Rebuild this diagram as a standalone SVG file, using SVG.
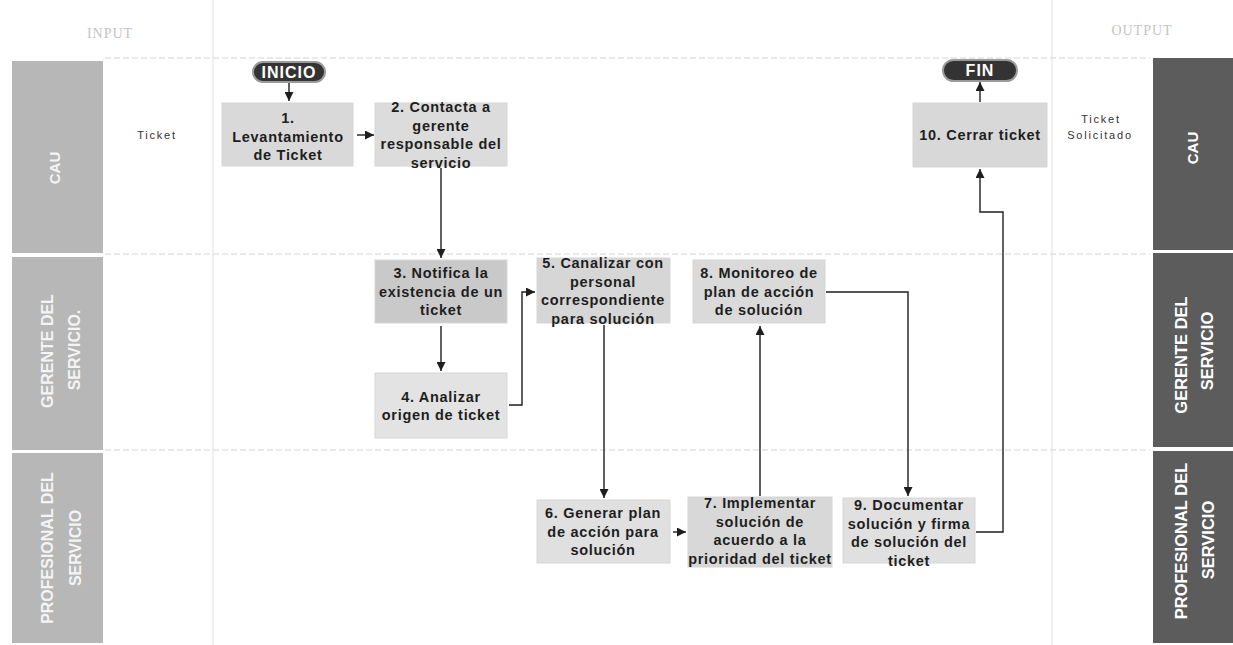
<svg xmlns="http://www.w3.org/2000/svg" width="1233" height="645" viewBox="0 0 1233 645">
<defs>
<style>
.bg{fill:#ffffff}
.grid{stroke:#d4d4d4;stroke-width:1;stroke-dasharray:6 3;fill:none}
.vgrid{stroke:#e2e2e2;stroke-width:1;fill:none}
.lhdr{fill:#b7b7b7}
.rhdr{fill:#5c5c5c}
.hdrtxt{font-family:"Liberation Sans",Arial,sans-serif;font-weight:bold;fill:#ffffff;text-anchor:middle}
.lhtxt{font-family:"Liberation Sans",Arial,sans-serif;font-weight:bold;fill:#f4f4f4;text-anchor:middle}
.node{stroke:#d6d6d6;stroke-width:1}
.ntxt{font-family:"Liberation Sans",Arial,sans-serif;font-weight:bold;font-size:14.5px;letter-spacing:0.7px;fill:#1e1e1e;text-anchor:middle}
.pill{fill:#333333;stroke:#9a9a9a;stroke-width:2}
.ptxt{font-family:"Liberation Sans",Arial,sans-serif;font-weight:bold;font-size:16px;letter-spacing:1px;fill:#ffffff;text-anchor:middle}
.small{font-family:"Liberation Sans",Arial,sans-serif;font-size:11px;letter-spacing:1.8px;fill:#333333;text-anchor:middle}
.faint{font-family:"Liberation Serif","Times New Roman",serif;font-size:14px;letter-spacing:1px;fill:#c4c4c4;text-anchor:middle}
.conn{stroke:#1e1e1e;stroke-width:1.4;fill:none;marker-end:url(#arr)}
</style>
<marker id="arr" markerUnits="userSpaceOnUse" markerWidth="9" markerHeight="9" viewBox="0 0 10 10" refX="10" refY="5" orient="auto">
<path d="M0,0 L10,5 L0,10 z" fill="#1e1e1e"/>
</marker>
</defs>
<rect class="bg" x="0" y="0" width="1233" height="645"/>

<g id="grid">
<line class="vgrid" x1="213" y1="0" x2="213" y2="645"/>
<line class="vgrid" x1="1052" y1="0" x2="1052" y2="645"/>
<line class="grid" x1="105" y1="58" x2="1150" y2="58"/>
<line class="grid" x1="105" y1="254" x2="1150" y2="254"/>
<line class="grid" x1="105" y1="450" x2="1150" y2="450"/>
<text class="faint" x="110" y="38">INPUT</text>
<text class="faint" x="1142" y="35">OUTPUT</text>
</g>

<g id="lane-headers-left">
<rect class="lhdr" x="12" y="61" width="91" height="192"/>
<rect class="lhdr" x="12" y="257" width="91" height="193"/>
<rect class="lhdr" x="12" y="453" width="91" height="190"/>
<text class="lhtxt" font-size="15" transform="translate(60,168) rotate(-90)">CAU</text>
<text class="lhtxt" font-size="16" transform="translate(53,351) rotate(-90)">GERENTE DEL</text>
<text class="lhtxt" font-size="16" transform="translate(80,350) rotate(-90)">SERVICIO.</text>
<text class="lhtxt" font-size="16" transform="translate(53,548) rotate(-90)">PROFESIONAL DEL</text>
<text class="lhtxt" font-size="16" transform="translate(81,548) rotate(-90)">SERVICIO</text>
</g>

<g id="lane-headers-right">
<rect class="rhdr" x="1153" y="58" width="80" height="192"/>
<rect class="rhdr" x="1153" y="253" width="80" height="194"/>
<rect class="rhdr" x="1153" y="451" width="80" height="192"/>
<text class="hdrtxt" font-size="15" transform="translate(1198,148) rotate(-90)">CAU</text>
<text class="hdrtxt" font-size="16.5" transform="translate(1187,355) rotate(-90)">GERENTE DEL</text>
<text class="hdrtxt" font-size="16.5" transform="translate(1213,351) rotate(-90)">SERVICIO</text>
<text class="hdrtxt" font-size="16.5" transform="translate(1187,541) rotate(-90)">PROFESIONAL DEL</text>
<text class="hdrtxt" font-size="16.5" transform="translate(1214,540) rotate(-90)">SERVICIO</text>
</g>

<g id="labels">
<text class="small" x="157" y="139">Ticket</text>
<text class="small" x="1101" y="123">Ticket</text>
<text class="small" x="1100" y="139">Solicitado</text>
</g>

<g id="connectors">
<path class="conn" d="M289,83 L289,101"/>
<path class="conn" d="M357,135 L374,135"/>
<path class="conn" d="M441,168 L441,258"/>
<path class="conn" d="M441,326 L441,371"/>
<path class="conn" d="M509,405 L522,405 L522,292 L535,292"/>
<path class="conn" d="M604,325 L604,498"/>
<path class="conn" d="M673,532 L686,532"/>
<path class="conn" d="M760,496 L760,326"/>
<path class="conn" d="M826,292 L908,292 L908,496"/>
<path class="conn" d="M976,532 L1003,532 L1003,212 L980,212 L980,169"/>
<path class="conn" d="M980,102 L980,82"/>
</g>

<g id="inicio">
<rect class="pill" x="253" y="62" width="72" height="20" rx="10"/>
<text class="ptxt" x="289" y="78">INICIO</text>
</g>

<g id="fin">
<rect class="pill" x="943" y="60" width="74" height="21" rx="10.5"/>
<text class="ptxt" x="980" y="76" letter-spacing="0.5">FIN</text>
</g>

<g id="n1">
<rect class="node" x="222" y="103" width="131" height="63" fill="#d9d9d9"/>
<text class="ntxt" x="288" y="123">1.</text>
<text class="ntxt" x="288" y="142">Levantamiento</text>
<text class="ntxt" x="288" y="160">de Ticket</text>
</g>

<g id="n2">
<rect class="node" x="375" y="103" width="132" height="63" fill="#dcdcdc"/>
<text class="ntxt" x="441" y="112">2. Contacta a</text>
<text class="ntxt" x="441" y="130.5">gerente</text>
<text class="ntxt" x="441" y="149">responsable del</text>
<text class="ntxt" x="441" y="167.5">servicio</text>
</g>

<g id="n3">
<rect class="node" x="375" y="260" width="132" height="63" fill="#c9c9c9"/>
<text class="ntxt" x="441" y="278">3. Notifica la</text>
<text class="ntxt" x="441" y="297">existencia de un</text>
<text class="ntxt" x="441" y="315">ticket</text>
</g>

<g id="n4">
<rect class="node" x="375" y="373" width="132" height="65" fill="#e3e3e3"/>
<text class="ntxt" x="441" y="402">4. Analizar</text>
<text class="ntxt" x="441" y="420">origen de ticket</text>
</g>

<g id="n5">
<rect class="node" x="537" y="258" width="133" height="65" fill="#d6d6d6"/>
<text class="ntxt" x="603" y="268">5. Canalizar con</text>
<text class="ntxt" x="603" y="286.5">personal</text>
<text class="ntxt" x="603" y="305">correspondiente</text>
<text class="ntxt" x="603" y="323.5">para solución</text>
</g>

<g id="n6">
<rect class="node" x="537" y="500" width="133" height="63" fill="#e0e0e0"/>
<text class="ntxt" x="603" y="518">6. Generar plan</text>
<text class="ntxt" x="603" y="536.5">de acción para</text>
<text class="ntxt" x="603" y="555">solución</text>
</g>

<g id="n7">
<rect class="node" x="688" y="497" width="144" height="70" fill="#d8d8d8"/>
<text class="ntxt" x="760" y="508">7. Implementar</text>
<text class="ntxt" x="760" y="526.5">solución de</text>
<text class="ntxt" x="760" y="545">acuerdo a la</text>
<text class="ntxt" x="760" y="563.5">prioridad del ticket</text>
</g>

<g id="n8">
<rect class="node" x="693" y="260" width="132" height="63" fill="#dadada"/>
<text class="ntxt" x="759" y="278">8. Monitoreo de</text>
<text class="ntxt" x="759" y="296.5">plan de acción</text>
<text class="ntxt" x="759" y="315">de solución</text>
</g>

<g id="n9">
<rect class="node" x="843" y="498" width="132" height="65" fill="#e0e0e0"/>
<text class="ntxt" x="909" y="510">9. Documentar</text>
<text class="ntxt" x="909" y="528.5">solución y firma</text>
<text class="ntxt" x="909" y="547">de solución del</text>
<text class="ntxt" x="909" y="565.5">ticket</text>
</g>

<g id="n10">
<rect class="node" x="913" y="103" width="134" height="64" fill="#d8d8d8"/>
<text class="ntxt" x="980" y="140">10. Cerrar ticket</text>
</g>
</svg>
